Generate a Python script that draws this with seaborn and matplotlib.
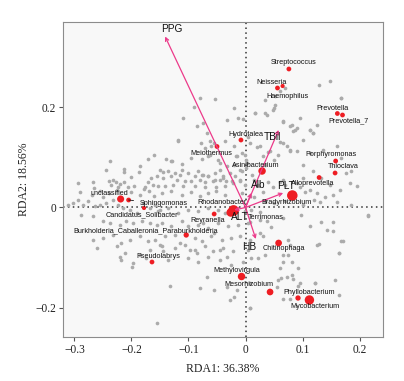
import matplotlib
matplotlib.use("Agg")
import matplotlib.pyplot as plt
import seaborn as sns
import pandas as pd

# ---------------- data ----------------
# grey species scores (RDA1, RDA2)
grey_x = [
 -0.091,-0.109,-0.085,-0.119,-0.160,-0.171,-0.130,-0.238,-0.185,-0.112,-0.244,-0.213,-0.144,-0.294,-0.268,-0.240,
 -0.213,-0.187,-0.232,-0.227,-0.220,-0.235,-0.200,-0.213,-0.196,-0.177,-0.171,-0.165,-0.156,-0.162,-0.153,-0.206,-0.223,
 -0.032,-0.004,-0.118,-0.078,-0.063,-0.060,-0.036,-0.139,-0.129,-0.095,-0.077,-0.066,-0.048,-0.016,-0.007,0.001,
 -0.150,-0.136,-0.124,-0.112,-0.115,-0.101,-0.089,-0.083,-0.074,-0.066,-0.054,-0.045,-0.039,-0.028,-0.019,-0.007,0.001,
 -0.144,-0.130,-0.121,-0.106,-0.095,-0.080,-0.071,-0.057,-0.045,-0.034,-0.022,-0.010,-0.001,
 -0.142,-0.127,-0.109,-0.089,-0.071,-0.051,-0.036,
 -0.290,-0.270,-0.255,-0.240,-0.225,-0.200,-0.185,-0.170,-0.160,-0.250,-0.265,-0.178,
 -0.220,-0.199,-0.132,-0.156,-0.150,-0.144,-0.097,-0.085,-0.115,
 -0.311,-0.302,-0.293,-0.285,-0.276,-0.264,-0.255,-0.244,-0.232,-0.223,-0.215,-0.203,-0.191,-0.180,-0.168,-0.159,-0.153,
 -0.288,-0.267,-0.250,-0.238,-0.220,-0.209,-0.197,-0.182,-0.168,-0.156,
 -0.267,-0.250,-0.232,-0.218,-0.203,-0.185,-0.171,-0.159,
 -0.261,-0.226,-0.212,-0.185,-0.168,-0.218,-0.197,-0.174,
 -0.147,-0.130,-0.112,-0.095,-0.080,-0.066,-0.051,-0.036,-0.007,0.007,
 -0.150,-0.136,-0.118,-0.101,-0.083,-0.066,-0.048,-0.036,-0.001,0.010,
 -0.147,-0.130,-0.112,-0.101,-0.083,-0.066,-0.048,-0.031,-0.013,0.004,
 -0.142,-0.124,-0.089,-0.077,-0.060,-0.042,-0.025,-0.010,0.007,
 -0.147,-0.124,-0.106,-0.089,-0.071,-0.057,-0.039,-0.022,0.004,
 -0.136,-0.101,-0.083,-0.066,-0.045,-0.025,-0.004,0.010,
 0.168,0.017,0.034,0.049,0.052,0.066,0.081,0.090,0.084,0.113,0.119,0.101,0.066,0.078,0.090,0.043,0.031,0.025,0.057,
 0.101,0.119,0.133,0.101,0.066,0.090,0.148,0.165,0.154,0.113,0.125,0.177,0.185,0.168,0.183,0.195,0.034,0.052,
 0.148,0.128,0.168,0.050,0.037,0.017,-0.021,-0.053,-0.080,0.096,0.066,0.078,0.087,0.113,0.119,0.125,0.160,0.136,
 0.113,0.072,0.078,0.008,-0.001,0.002,-0.013,-0.074,
 0.130,0.098,0.066,0.025,0.037,0.113,0.133,0.142,0.154,0.154,0.215,0.025,0.031,0.075,0.078,0.128,0.168,0.163,
 0.066,0.075,0.081,0.022,0.034,0.066,0.060,0.092,0.081,0.072,0.063,0.084,0.095,0.092,0.122,0.157,0.057,0.055,
 0.163,0.066,0.078,0.008,
 -0.074,-0.056,-0.045,-0.033,-0.068,-0.056,-0.033,-0.021,-0.015,0.008,-0.027,-0.080,0.008,0.215,0.171,0.163,0.125,0.122,
 -0.068,-0.056,-0.071,-0.062,-0.021,-0.015,-0.045,-0.033,-0.021,-0.010,-0.077,-0.065,-0.053,-0.039,-0.024,-0.010,
 0.015,0.022,0.040,0.048,0.060,0.070,0.095,0.105,0.120,0.140,0.160,0.185,0.035,0.050,0.070,0.100,0.015,0.030,
 0.025,0.045,0.008,0.012,0.035,0.050,0.040,0.020,0.060,0.005,
 0.070,0.060,
]
grey_y = [
 0.201,0.179,0.162,0.134,0.104,0.096,0.093,0.092,0.083,0.086,0.075,0.070,0.070,0.049,0.051,0.052,
 0.077,0.070,0.055,0.050,0.047,0.045,0.060,0.050,0.043,0.041,0.050,0.059,0.062,0.045,0.042,0.041,0.041,
 0.175,0.177,0.133,0.129,0.132,0.123,0.132,0.097,0.092,0.099,0.097,0.102,0.095,0.102,0.109,0.095,
 0.075,0.072,0.069,0.075,0.065,0.069,0.062,0.072,0.065,0.062,0.069,0.075,0.062,0.069,0.062,0.072,0.079,
 0.059,0.062,0.055,0.052,0.052,0.055,0.050,0.052,0.055,0.052,0.049,0.052,0.045,
 0.042,0.045,0.042,0.042,0.041,0.041,0.042,
 0.030,0.025,0.033,0.028,0.035,0.030,0.025,0.032,0.022,0.020,0.038,0.036,
 -0.098,-0.119,-0.156,-0.231,-0.075,-0.088,-0.085,-0.091,-0.071,
 0.005,0.009,0.015,0.005,0.012,0.002,0.005,0.009,0.015,0.005,-0.001,-0.005,-0.011,0.009,-0.001,0.005,-0.008,
 -0.015,-0.018,-0.028,-0.031,-0.035,-0.028,-0.031,-0.028,-0.031,-0.035,
 -0.065,-0.061,-0.055,-0.071,-0.065,-0.058,-0.068,-0.065,
 -0.081,-0.078,-0.091,-0.095,-0.085,-0.105,-0.111,-0.101,
 0.029,0.032,0.025,0.030,0.022,0.029,0.032,0.025,0.029,0.022,
 -0.005,-0.001,-0.011,-0.005,-0.008,-0.001,-0.005,-0.011,-0.008,-0.005,
 -0.031,-0.038,-0.028,-0.038,-0.035,-0.041,-0.031,-0.038,-0.035,-0.031,
 -0.058,-0.055,-0.061,-0.068,-0.058,-0.065,-0.061,-0.058,-0.065,
 -0.078,-0.081,-0.075,-0.085,-0.078,-0.088,-0.081,-0.088,-0.085,
 -0.105,-0.101,-0.108,-0.098,-0.105,-0.115,-0.108,-0.101,
 0.219,0.189,0.189,0.195,0.205,0.172,0.165,0.159,0.152,0.155,0.149,0.135,0.129,0.115,0.112,0.112,0.102,0.122,0.105,
 0.085,0.072,0.059,0.059,0.055,0.049,0.045,0.035,0.025,0.035,0.029,0.069,0.072,0.099,0.049,0.042,0.215,0.222,
 0.252,0.245,0.219,0.199,0.185,0.189,0.199,0.217,0.219,0.179,0.171,0.162,0.155,0.155,0.149,0.165,0.122,0.115,
 0.109,0.122,0.112,0.129,0.105,0.089,0.179,0.169,
 0.010,-0.015,-0.021,-0.025,-0.028,-0.037,-0.030,-0.045,-0.048,-0.030,-0.018,-0.051,-0.058,-0.065,-0.075,-0.073,-0.068,-0.091,
 -0.095,-0.095,-0.108,-0.101,-0.095,-0.108,-0.121,-0.121,-0.135,-0.138,-0.141,-0.143,-0.151,-0.157,-0.151,-0.145,-0.145,-0.158,
 -0.175,-0.183,-0.182,-0.201,
 -0.031,-0.051,-0.085,-0.098,-0.138,-0.165,-0.158,-0.178,-0.165,-0.201,-0.185,-0.161,-0.151,-0.015,-0.068,-0.091,-0.075,-0.151,
 0.149,0.129,0.119,0.105,0.122,0.102,0.089,0.082,0.085,0.075,0.065,0.062,0.055,0.059,0.052,0.055,
 0.055,0.045,0.050,0.040,0.050,0.045,0.040,0.030,0.015,0.020,0.010,0.005,0.012,0.008,0.012,0.005,0.020,0.030,
 -0.010,-0.040,-0.030,0.065,0.085,0.095,0.110,0.120,0.130,0.140,
 0.238,0.232,
]

# highlighted genera
genus = ["Streptococcus", "Neisseria", "Haemophilus", "Prevotella", "Prevotella_7", "Hydrotalea",
         "Meiothermus", "Asinibacterium", "Porphyromonas", "Thioclava", "Alloprevotella",
         "Bradyrhizobium", "Rhodanobacter", "Terrimonas", "Reyranella",
         "Burkholderia_Caballeronia_Paraburkholderia", "Pseudolabrys", "unclassified",
         "Sphingomonas", "Candidatus_Solibacter", "Chitinophaga", "Methylovirgula",
         "Mesorhizobium", "Phyllobacterium", "Mycobacterium"]
genus_x = [0.076, 0.056, 0.065, 0.161, 0.170, -0.008, -0.050, 0.029, 0.158, 0.157, 0.129,
           0.082, -0.021, -0.026, -0.055, -0.104, -0.164, -0.219, -0.205, -0.178, 0.058,
           -0.007, 0.043, 0.092, 0.112]
genus_y = [0.277, 0.239, 0.243, 0.188, 0.185, 0.135, 0.122, 0.073, 0.093, 0.069, 0.060,
           0.024, -0.006, -0.010, -0.013, -0.055, -0.109, 0.017, 0.015, -0.001, -0.071,
           -0.138, -0.169, -0.181, -0.185]
abundance = [1.5, 1.5, 1.0, 1.5, 1.5, 1.5, 1.5, 4.5, 1.5, 1.5, 1.5,
             9.5, 10.0, 6.0, 1.5, 2.0, 1.5, 4.0, 1.5, 1.0, 3.5,
             4.5, 3.5, 2.0, 7.5]

# environmental vectors
env = ["PPG", "TBil", "Alb", "PLT", "ALT", "HB"]
env_x = [-0.141, 0.058, 0.010, 0.066, -0.020, 0.018]
env_y = [0.342, 0.155, 0.029, 0.029, -0.005, -0.063]

x_ticks = [-0.3, -0.2, -0.1, 0.0, 0.1, 0.2]
x_tick_labels = ["\u22120.3", "\u22120.2", "\u22120.1", "0", "0.1", "0.2"]
y_ticks = [-0.2, 0.0, 0.2]
y_tick_labels = ["\u22120.2", "0", "0.2"]
x_label = "RDA1: 36.38%"
y_label = "RDA2: 18.56%"

# ---------------- style ----------------
label_offsets = {  # pixels (dx, dy up)
    "Streptococcus": (5, 6), "Neisseria": (-6, 6), "Haemophilus": (5, -11),
    "Prevotella": (-5, 5), "Prevotella_7": (6, -6), "Hydrotalea": (5, 5),
    "Meiothermus": (-6, -7), "Asinibacterium": (-6, 5), "Porphyromonas": (-5, 6),
    "Thioclava": (8, 6), "Alloprevotella": (-6, -6), "Bradyrhizobium": (-6, -7),
    "Rhodanobacter": (-11, 8), "Terrimonas": (35, -5), "Reyranella": (-6, -7),
    "Burkholderia_Caballeronia_Paraburkholderia": (-41, 4), "Pseudolabrys": (6, 6),
    "unclassified": (-11, 5), "Sphingomonas": (35, -4), "Candidatus_Solibacter": (-2, -7),
    "Chitinophaga": (5, -6), "Methylovirgula": (-5, 6), "Mesorhizobium": (-21, 7),
    "Phyllobacterium": (11, 5), "Mycobacterium": (6, -7),
}
env_offsets = {"PPG": (7, 7), "TBil": (-6, -7), "Alb": (7, 8), "PLT": (3, 7),
               "ALT": (6, -7), "HB": (-7, -8)}

sns.set_theme(style="white")
plt.rcParams["axes.unicode_minus"] = True

fig = plt.figure(figsize=(4.04, 3.81), dpi=100)
ax = fig.add_axes([63/404, 1-337/381, 320/404, 315/381])
ax.set_facecolor("#F8F8F8")

grey_df = pd.DataFrame({"RDA1": grey_x, "RDA2": grey_y})
sns.scatterplot(data=grey_df, x="RDA1", y="RDA2", color="#ABABAB", s=7, linewidth=0,
                ax=ax, legend=False, zorder=2)

ax.axhline(0, color="#333333", ls=(0, (1, 2.2)), lw=1.1, zorder=1)
ax.axvline(0, color="#333333", ls=(0, (1, 2.2)), lw=1.1, zorder=1)

red_df = pd.DataFrame({"genus": genus, "RDA1": genus_x, "RDA2": genus_y, "abundance": abundance})
sns.scatterplot(data=red_df, x="RDA1", y="RDA2", size="abundance", sizes=(9, 60),
                color="#EE1D23", linewidth=0, ax=ax, legend=False, zorder=3)

sans = "Liberation Sans"
for g, gx, gy in zip(genus, genus_x, genus_y):
    dx, dy = label_offsets[g]
    if g == "Sphingomonas":
        ax.annotate(g, (gx, gy), xytext=(dx, dy), textcoords="offset pixels",
                    ha="center", va="center", fontsize=5.2, family=sans, color="#111111",
                    zorder=5, arrowprops=dict(arrowstyle="-", color="#111111", lw=0.6,
                                              shrinkA=2, shrinkB=13))
    else:
        ax.annotate(g, (gx, gy), xytext=(dx, dy), textcoords="offset pixels",
                    ha="center", va="center", fontsize=5.2, family=sans, color="#111111",
                    zorder=5)

for e, ex, ey in zip(env, env_x, env_y):
    ax.annotate("", xy=(ex, ey), xytext=(0, 0),
                arrowprops=dict(arrowstyle="->", color="#EC3A8A", lw=0.9,
                                mutation_scale=6, shrinkA=0, shrinkB=0), zorder=4)
    dx, dy = env_offsets[e]
    ax.annotate(e, (ex, ey), xytext=(dx, dy), textcoords="offset pixels",
                ha="center", va="center", fontsize=7.3, family=sans, color="#111111", zorder=6)

ax.set_xlim(-0.32, 0.241)
ax.set_ylim(-0.259, 0.371)
ax.set_xticks(x_ticks)
ax.set_xticklabels(x_tick_labels, family="Liberation Serif", fontsize=8.3)
ax.set_yticks(y_ticks)
ax.set_yticklabels(y_tick_labels, family="Liberation Serif", fontsize=8.3)
ax.tick_params(axis="both", direction="out", length=3, width=0.8, color="#555555",
               pad=2, labelcolor="#222222", bottom=True, left=True)
for sp in ax.spines.values():
    sp.set_color("#8C8C8C")
    sp.set_linewidth(0.8)
ax.set_xlabel(x_label, family="Liberation Serif", fontsize=8.5, color="#222222", labelpad=5)
ax.set_ylabel(y_label, family="Liberation Serif", fontsize=8.5, color="#222222", labelpad=4)

fig.savefig("out.png", dpi=100)
